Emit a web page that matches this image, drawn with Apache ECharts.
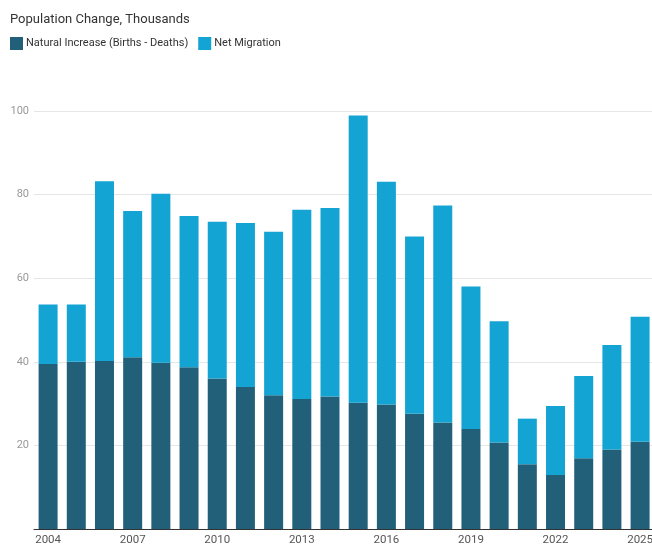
<!DOCTYPE html>
<html>
<head>
<meta charset="utf-8">
<script src="https://cdn.jsdelivr.net/npm/echarts@6/dist/echarts.min.js"></script>
<style>html,body{margin:0;padding:0;background:#fff;overflow:hidden}#c{width:656px;height:546px}</style>
</head>
<body>
<div id="c"></div>
<script>
const years = ['2004','2005','2006','2007','2008','2009','2010','2011','2012','2013','2014','2015','2016','2017','2018','2019','2020','2021','2022','2023','2024','2025'];
const naturalIncrease = [39.5,40.0,40.2,41.1,39.8,38.7,36.0,34.0,32.0,31.1,31.7,30.2,29.8,27.6,25.5,23.9,20.7,15.5,12.9,16.9,19.0,20.9];
const netMigration = [14.2,13.7,43.0,35.0,40.4,36.2,37.5,39.2,39.1,45.3,45.1,68.7,53.3,42.4,51.9,34.1,29.0,10.9,16.5,19.7,25.0,29.9];
const yTicks = [0,20,40,60,80,100];

const chart = echarts.init(document.getElementById('c'));
chart.setOption({
  animation: false,
  textStyle: {fontFamily: 'Roboto'},
  title: {
    text: 'Population Change, Thousands',
    left: 5, top: 8,
    textStyle: {fontSize: 13, fontWeight: 'normal', color: '#333', fontFamily: 'Roboto'}
  },
  legend: {
    left: 5, top: 32,
    itemWidth: 13, itemHeight: 13, itemGap: 10,
    icon: 'rect',
    textStyle: {fontSize: 11, color: '#333', fontFamily: 'Roboto', padding: [0,0,0,-2]},
    data: ['Natural Increase (Births - Deaths)', 'Net Migration']
  },
  grid: {left: 34, right: 1, top: 111, bottom: 15, containLabel: false},
  xAxis: {
    type: 'category',
    data: years,
    axisLine: {lineStyle: {color: '#333', width: 1}},
    axisTick: {show: false},
    axisLabel: {interval: 2, color: '#555', fontSize: 11.5, margin: 5, fontFamily: 'Roboto'}
  },
  yAxis: {
    type: 'value',
    min: yTicks[0], max: yTicks[yTicks.length-1], interval: 20,
    axisLine: {show: false},
    axisTick: {show: false},
    axisLabel: {color: '#999', fontSize: 11, margin: 5, showMinLabel: false, fontFamily: 'Roboto'},
    splitLine: {lineStyle: {color: '#e6e6e6'}}
  },
  series: [
    {
      name: 'Natural Increase (Births - Deaths)', type: 'bar', stack: 'total',
      data: naturalIncrease, barWidth: 19,
      itemStyle: {color: '#22607a'}
    },
    {
      name: 'Net Migration', type: 'bar', stack: 'total',
      data: netMigration, barWidth: 19,
      itemStyle: {color: '#13a4d3'}
    }
  ]
});
</script>
</body>
</html>
